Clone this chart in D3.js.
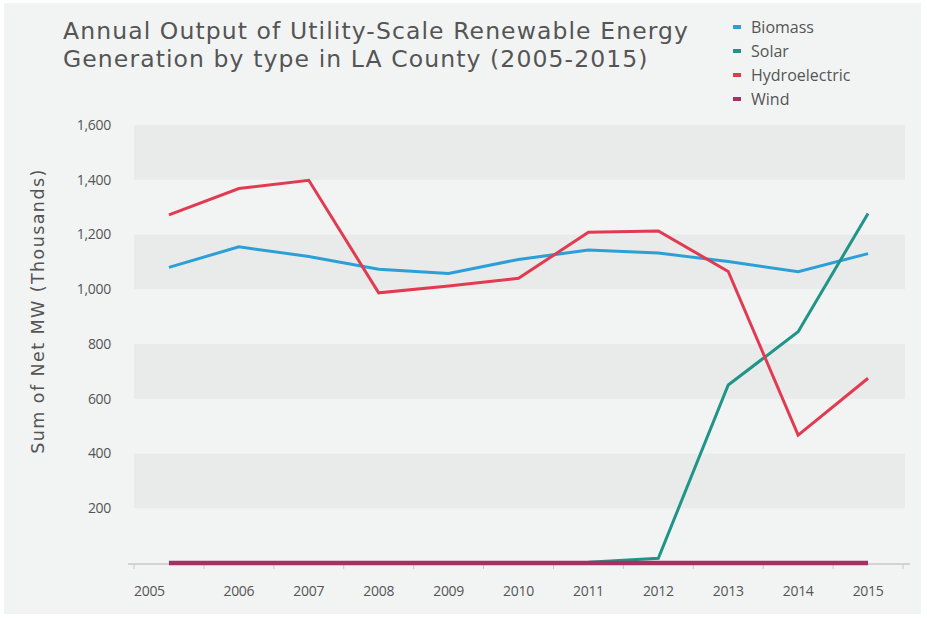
<!DOCTYPE html>
<html>
<head>
<meta charset="utf-8">
<script src="https://cdn.jsdelivr.net/npm/d3@7"></script>
<style>
  html, body { margin: 0; padding: 0; background: #ffffff; }
  svg { display: block; font-family: "Open Sans", Lato, sans-serif; }
</style>
</head>
<body>
<svg id="chart" width="927" height="620"></svg>
<script>
// Annual output (thousands of net MW) by renewable source, LA County
const years = ["2005","2006","2007","2008","2009","2010","2011","2012","2013","2014","2015"];
const biomass = [1080, 1155, 1120, 1073, 1058, 1109, 1143, 1132, 1101, 1064, 1130];
const solar   = [0, 0, 0, 0, 0, 0, 3, 17, 650, 845, 1277];
const hydro   = [1272, 1368, 1398, 987, 1012, 1040, 1208, 1213, 1065, 467, 675];
const wind    = [0, 0, 0, 0, 0, 0, 0, 0, 0, 0, 0];
const seriesNames = ["Biomass", "Solar", "Hydroelectric", "Wind"];
const seriesColors = ["#2c9fd6", "#1f9588", "#e23a50", "#a82f62"];
const yTicks = [200, 400, 600, 800, 1000, 1200, 1400, 1600];
const bandRanges = [[200, 400], [600, 800], [1000, 1200], [1400, 1600]];

const seriesValues = [biomass, solar, hydro, wind];

const svg = d3.select("#chart");
const W = 927, H = 620;
const wideFont = "'DejaVu Sans', 'Open Sans', sans-serif";

// adjust a text element's letter spacing so that it spans the target width
function fitWidth(sel, target) {
  const n = sel.node();
  const len = n.getComputedTextLength();
  const chars = n.textContent.length;
  sel.attr("letter-spacing", ((target - len) / Math.max(1, chars - 1)).toFixed(3));
}

// panel background
svg.append("rect").attr("x", 4).attr("y", 3).attr("width", W - 10).attr("height", H - 9)
  .attr("fill", "#f2f4f4");

const x = d3.scalePoint().domain(years).range([134, 903]).padding(0.5);
const xBand = d3.scaleBand().domain(years).range([134, 903]);
const y = d3.scaleLinear().domain([0, 1600]).range([563, 125]);

// alternating horizontal bands
svg.append("g").selectAll("rect").data(bandRanges).join("rect")
  .attr("x", 134).attr("width", 905 - 134)
  .attr("y", d => y(d[1])).attr("height", d => y(d[0]) - y(d[1]))
  .attr("fill", "#e9eaea");

// y axis labels
const yAxis = d3.axisLeft(y).tickValues(yTicks).tickFormat(d3.format(",")).tickSize(0).tickPadding(0);
const gy = svg.append("g").attr("transform", "translate(111,0)").call(yAxis);
gy.select(".domain").remove();
gy.selectAll("text").attr("fill", "#555555").style("font-size", "14px")
  .style("font-family", "'Open Sans', Lato, sans-serif").attr("letter-spacing", "-0.3");

// x axis with ticks on category boundaries
const gx = svg.append("g").attr("transform", "translate(0,564)");
gx.append("line").attr("x1", 128).attr("x2", 910).attr("y1", 0).attr("y2", 0)
  .attr("stroke", "#c8c8c8").attr("stroke-width", 1.5);
gx.selectAll("line.tk").data(years.concat(["end"])).join("line").attr("class", "tk")
  .attr("x1", (d, i) => i < years.length ? xBand(d) : xBand.range()[1])
  .attr("x2", (d, i) => i < years.length ? xBand(d) : xBand.range()[1])
  .attr("y1", 0).attr("y2", 5).attr("stroke", "#c8c8c8").attr("stroke-width", 1);
gx.selectAll("text").data(years).join("text")
  .attr("x", (d, i) => i === 0 ? xBand(d) : x(d))
  .attr("y", 32)
  .attr("text-anchor", (d, i) => i === 0 ? "start" : "middle")
  .attr("fill", "#555555").style("font-size", "14px").attr("letter-spacing", "-0.3")
  .text(d => d);

// series lines (wind drawn last so it stays on top along the baseline)
const line = d3.line().x((d, i) => x(years[i])).y(d => y(d));
const lineOrder = [0, 1, 2, 3];
svg.append("g").selectAll("path").data(lineOrder).join("path")
  .attr("d", k => line(seriesValues[k]))
  .attr("fill", "none")
  .attr("stroke", k => seriesColors[k])
  .attr("stroke-width", k => k === 3 ? 4.5 : 3)
  .attr("stroke-linejoin", "miter");

// y axis title
const yTitle = svg.append("text")
  .attr("transform", "translate(44,311) rotate(-90)")
  .attr("text-anchor", "middle")
  .attr("fill", "#555555").style("font-size", "17.5px").style("font-family", wideFont)
  .text("Sum of Net MW (Thousands)");
fitWidth(yTitle, 284);

// title
const title = svg.append("g").attr("fill", "#555555").style("font-size", "23.5px")
  .style("font-family", wideFont);
const tl1 = title.append("text").attr("x", 63).attr("y", 39)
  .text("Annual Output of Utility-Scale Renewable Energy");
const tl2 = title.append("text").attr("x", 63).attr("y", 67)
  .text("Generation by type in LA County (2005-2015)");
fitWidth(tl1, 625);
tl2.attr("letter-spacing", tl1.attr("letter-spacing"));

// legend
const lg = svg.append("g").selectAll("g").data(seriesNames).join("g")
  .attr("transform", (d, i) => `translate(733,${27 + i * 24})`);
lg.append("rect").attr("x", 0).attr("y", -2).attr("width", 8).attr("height", 4)
  .attr("fill", (d, i) => seriesColors[i]);
lg.append("text").attr("x", 18).attr("y", 6).attr("fill", "#555555")
  .style("font-size", "16px").text(d => d);
</script>
</body>
</html>
